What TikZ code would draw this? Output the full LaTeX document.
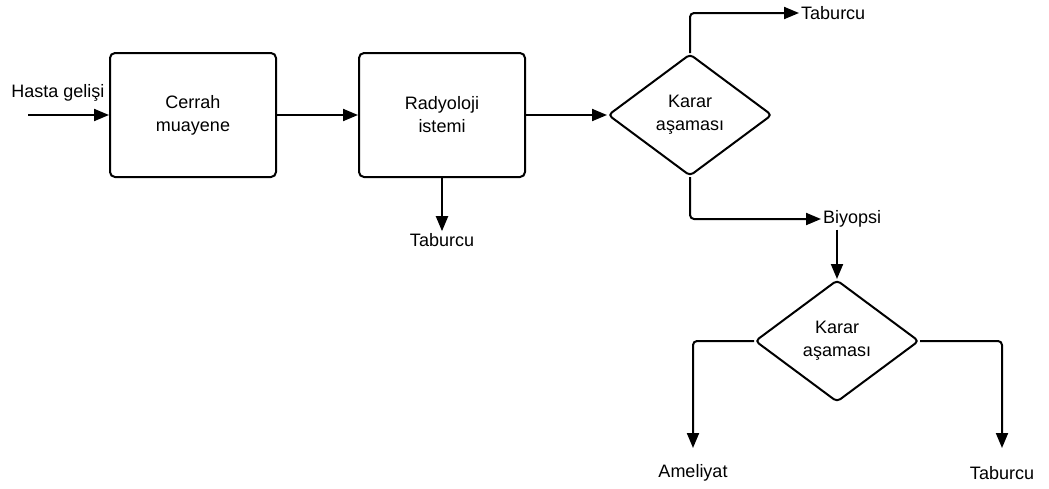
\documentclass[tikz,border=0pt]{standalone}
\usepackage{fontspec}
\setmainfont{Liberation Sans}
\usetikzlibrary{arrows.meta,shapes.geometric}
\begin{document}
\begin{tikzpicture}[x=1pt,y=-1pt,
  every node/.style={font=\fontsize{18}{23}\selectfont},
  line/.style={line width=2pt,rounded corners=4pt},
  arr/.style={line,-{Triangle[length=15pt,width=12pt]}},
  box/.style={draw,line width=2pt,rounded corners=5pt,minimum width=166pt,minimum height=124pt,align=center},
  dec/.style={draw,diamond,line width=2pt,rounded corners=4pt,minimum width=164pt,minimum height=122pt,inner sep=0pt,align=center},
  lbl/.style={inner sep=2pt}
]
\useasboundingbox (0,0) rectangle (1049,488);

% process boxes
\node[box] (cerrah) at (193,115) {Cerrah\\muayene};
\node[box] (radyo) at (442,115) {Radyoloji\\istemi};

% decision diamonds
\node[dec] (karar1) at (690,115) {Karar\\aşaması};
\node[dec] (karar2) at (837,341) {Karar\\aşaması};

% plain labels
\node[lbl] (gelis) at (58,93) {Hasta gelişi};
\coordinate (giris) at (28,115);
\node[lbl,anchor=west] (taburcuA) at (799,13) {Taburcu};
\node[lbl,anchor=west] (biyopsi) at (821,219) {Biyopsi};
\node[lbl] (taburcuB) at (442,240) {Taburcu};
\node[lbl] (ameliyat) at (693,473) {Ameliyat};
\node[lbl] (taburcuC) at (1002,473) {Taburcu};

% arrow ends above the lower labels
\coordinate (ucA) at (693,448);
\coordinate (ucC) at (1002,448);

% connectors
\draw[arr] (giris) -- (cerrah.west);
\draw[arr] (cerrah.east) -- (radyo.west);
\draw[arr] (radyo.east) -- (karar1.west);
\draw[arr] (radyo.south) -- (taburcuB.north);
\draw[arr] (karar1.north) |- (taburcuA.west);
\draw[arr] (karar1.south) |- (biyopsi.west);
\draw[arr] (biyopsi.south -| karar2.north) -- (karar2.north);
\draw[arr] (karar2.west) -| (ucA);
\draw[arr] (karar2.east) -| (ucC);
\end{tikzpicture}
\end{document}
